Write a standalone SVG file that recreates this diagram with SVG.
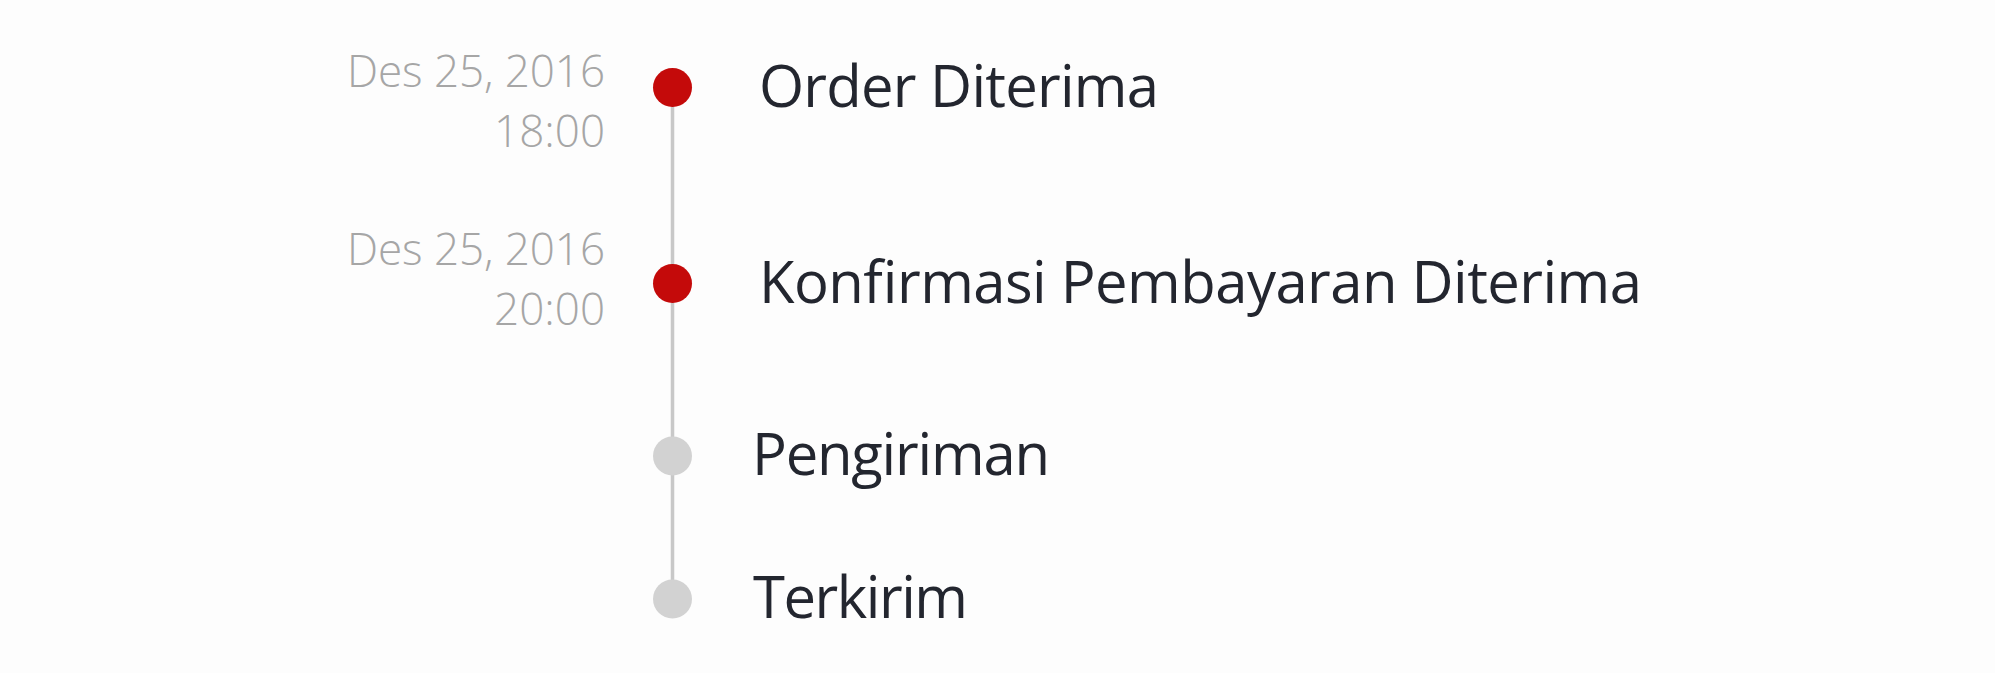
<svg xmlns="http://www.w3.org/2000/svg" width="1995" height="673" viewBox="0 0 1995 673">
<style>
.date{font-family:"Open Sans","Liberation Sans",sans-serif;font-weight:300;font-size:44px;fill:#a6a6a6;text-anchor:end}
.label{font-family:"Open Sans","Liberation Sans",sans-serif;font-weight:400;font-size:58px;fill:#23262f}
.done{fill:#c40a0a}
.todo{fill:#d2d2d2}
.conn{stroke:#c8c8c8;stroke-width:3.5;fill:none}
</style>
<rect width="1995" height="673" fill="#fdfdfd"/>
<g id="connectors">
<line class="conn" x1="672.5" y1="88" x2="672.5" y2="599"/>
</g>
<g id="step1">
<text class="date" x="605" y="87" textLength="258">Des 25, 2016</text>
<text class="date" x="605" y="147">18:00</text>
<circle class="done" cx="672.5" cy="87.5" r="19.5"/>
<text class="label" x="759" y="107" textLength="400">Order Diterima</text>
</g>
<g id="step2">
<text class="date" x="605" y="265" textLength="258">Des 25, 2016</text>
<text class="date" x="605" y="325">20:00</text>
<circle class="done" cx="672.5" cy="283.5" r="19.5"/>
<text class="label" x="759" y="303" textLength="883">Konfirmasi Pembayaran Diterima</text>
</g>
<g id="step3">
<circle class="todo" cx="672.5" cy="456" r="19.5"/>
<text class="label" x="752" y="475" textLength="298">Pengiriman</text>
</g>
<g id="step4">
<circle class="todo" cx="672.5" cy="599" r="19.5"/>
<text class="label" x="753" y="618" textLength="215">Terkirim</text>
</g>
</svg>
